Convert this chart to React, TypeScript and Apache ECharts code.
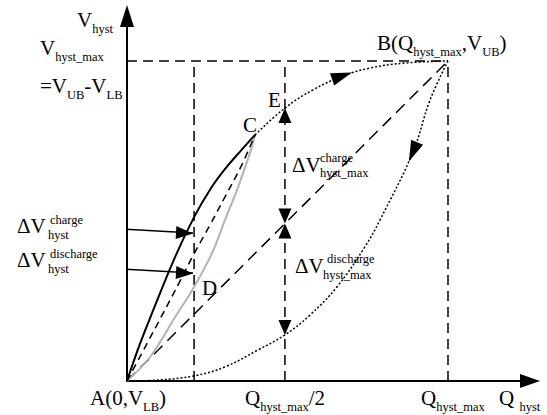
import React, { useEffect, useRef } from 'react';
import * as echarts from 'echarts';

// ---- data (Q normalised to Q_hyst_max, V normalised to V_hyst_max) ----
const X_AXIS_MAX = 1.2555;
const Y_AXIS_MAX = 1.1406;
const guideTop: number[][] = [[0, 1], [1, 1]];
const guideVerticals: number[] = [0.209, 0.492, 1];
const diagonal: number[][] = [[0, 0], [1, 1]];
const chargeSolid: number[][] = [[0, 0], [0.04, 0.115], [0.078, 0.212], [0.15, 0.388], [0.209, 0.512], [0.26, 0.6], [0.305, 0.662], [0.355, 0.72], [0.399, 0.769]];
const chargeDashed: number[][] = [[0, 0], [0.109, 0.205], [0.165, 0.312], [0.209, 0.398], [0.26, 0.49], [0.305, 0.575], [0.355, 0.67], [0.399, 0.769]];
const dischargeGray: number[][] = [[0, 0], [0.072, 0.075], [0.15, 0.2], [0.209, 0.294], [0.265, 0.4], [0.305, 0.503], [0.346, 0.606], [0.389, 0.731], [0.399, 0.769]];
const upperDotted: number[][] = [[0.399, 0.769], [0.492, 0.853], [0.58, 0.91], [0.67, 0.952], [0.757, 0.978], [0.87, 0.994], [1, 1]];
const lowerDotted: number[][] = [[1, 1], [0.944, 0.878], [0.891, 0.716], [0.788, 0.503], [0.741, 0.419], [0.654, 0.294], [0.57, 0.206], [0.492, 0.144], [0.408, 0.097], [0.305, 0.044], [0.209, 0.016], [0.097, 0.003], [0, 0]];
const pointerCharge: number[][] = [[-0.1215, 0.481], [0.2056, 0.4625]];
const pointerDischarge: number[][] = [[-0.1215, 0.356], [0.2056, 0.3375]];
// arrow heads with the tip on the point: [Q, V, direction]
const tipArrows: [number, number, string][] = [
  [0.492, 0.853, 'up'],
  [0.492, 0.492, 'down'],
  [0.492, 0.492, 'up'],
  [0.492, 0.144, 'down'],
  [0.2056, 0.4625, 'right'],
  [0.2056, 0.3375, 'right'],
];
// arrow heads centred on a curve: [Q, V, rotation in degrees]
const curveArrows: [number, number, number][] = [
  [0.67, 0.953, -71],
  [0.891, 0.716, 157],
];

const FONT = "'Liberation Serif', 'Times New Roman', serif";

const rich = {
  m: { fontSize: 21, fontFamily: FONT, lineHeight: 24, fill: '#000' },
  s: { fontSize: 12.5, fontFamily: FONT, lineHeight: 24, padding: [18, 0, 0, 0], fill: '#000' },
};

// rich labels: [text, left, baseline]
const richLabels: [string, number, number][] = [
  ['{m|V}{s|hyst}', 77, 27],
  ['{m|V}{s|hyst_max}', 40, 55],
  ['{m|=V}{s|UB}{m|-V}{s|LB}', 40, 93],
  ['{m|B(Q}{s|hyst_max}{m|,V}{s|UB}{m|)}', 377, 50],
  ['{m|E}', 268, 107],
  ['{m|C}', 243, 132],
  ['{m|D}', 202, 295],
  ['{m|A(0,V}{s|LB}{m|)}', 90, 405],
  ['{m|Q}{s|hyst_max}{m|/2}', 245, 405],
  ['{m|Q}{s|hyst_max}', 421, 405],
  ['{m|Q }{s|hyst}', 499, 405],
  ['{m|ΔV}', 17, 233],
  ['{m|ΔV}', 17, 267],
  ['{m|ΔV}', 292, 172],
  ['{m|ΔV}', 295, 273],
];
// small stacked labels: [text, left, baseline]
const smallLabels: [string, number, number][] = [
  ['charge', 50, 224],
  ['hyst', 48, 239],
  ['discharge', 50, 258],
  ['hyst', 48, 273],
  ['charge', 320, 162],
  ['hyst_max', 320, 177],
  ['discharge', 327, 263],
  ['hyst_max', 323, 279],
];

function lineSeries(data: number[][], style: any, extra: any = {}) {
  return {
    type: 'line',
    data,
    symbol: 'none',
    showSymbol: false,
    silent: true,
    lineStyle: { color: '#000', width: 1.5, ...style },
    ...extra,
  };
}

export default function App() {
  const ref = useRef<HTMLDivElement>(null);
  useEffect(() => {
    if (!ref.current) return;
    const chart = echarts.init(ref.current, undefined, { renderer: 'svg' });
    const dash = [10, 6];
    const series: any[] = [];
    series.push(lineSeries(guideTop, { type: dash }));
    guideVerticals.forEach((q) => series.push(lineSeries([[q, 0], [q, 1]], { type: dash })));
    series.push(lineSeries(diagonal, { type: [12, 7] }));
    series.push(lineSeries(lowerDotted, { type: [2, 2] }, { smooth: 0.4 }));
    series.push(lineSeries(upperDotted, { type: [2, 2] }, { smooth: 0.4 }));
    series.push(lineSeries(dischargeGray, { color: '#b3b3b3', width: 2 }, { smooth: 0.4 }));
    series.push(lineSeries(chargeDashed, { type: [7, 5] }, { smooth: 0.4 }));
    series.push(lineSeries(chargeSolid, { width: 2 }, { smooth: 0.4 }));
    series.push(lineSeries(pointerCharge, { width: 1.5 }, { clip: false }));
    series.push(lineSeries(pointerDischarge, { width: 1.5 }, { clip: false }));

    const arrowData: any[] = [];
    tipArrows.forEach(([q, v, dir]) => {
      if (dir === 'up') arrowData.push({ value: [q, v], symbolRotate: 0, symbolSize: [13, 15], symbolOffset: [0, 7.5] });
      if (dir === 'down') arrowData.push({ value: [q, v], symbolRotate: 180, symbolSize: [13, 15], symbolOffset: [0, -7.5] });
      if (dir === 'right') arrowData.push({ value: [q, v], symbolRotate: -93, symbolSize: [13, 17], symbolOffset: [-8.5, 0] });
    });
    curveArrows.forEach(([q, v, a]) => {
      arrowData.push({ value: [q, v], symbolRotate: a, symbolSize: [13, 21] });
    });
    series.push({
      type: 'scatter',
      data: arrowData,
      symbol: 'triangle',
      silent: true,
      clip: false,
      itemStyle: { color: '#000', opacity: 1 },
      z: 5,
    });

    const graphic: any[] = [];
    richLabels.forEach(([text, x, b]) => {
      graphic.push({
        type: 'text',
        x,
        y: b - 19,
        silent: true,
        style: { text, rich, align: 'left', verticalAlign: 'top', fill: '#000', fontSize: 21, fontFamily: FONT },
      });
    });
    smallLabels.forEach(([text, x, b]) => {
      graphic.push({
        type: 'text',
        x,
        y: b - 4.2,
        silent: true,
        style: { text, align: 'left', verticalAlign: 'middle', fill: '#000', fontSize: 12.5, fontFamily: FONT },
      });
    });

    chart.setOption({
      animation: false,
      backgroundColor: '#fff',
      grid: { left: 127, right: 17, top: 16, bottom: 34 },
      xAxis: {
        type: 'value',
        min: 0,
        max: X_AXIS_MAX,
        axisLine: { show: true, onZero: false, symbol: ['none', 'triangle'], symbolSize: [14, 20], lineStyle: { color: '#000', width: 2 } },
        axisTick: { show: false },
        axisLabel: { show: false },
        splitLine: { show: false },
      },
      yAxis: {
        type: 'value',
        min: 0,
        max: Y_AXIS_MAX,
        axisLine: { show: true, onZero: false, symbol: ['none', 'triangle'], symbolSize: [14, 22], lineStyle: { color: '#000', width: 2 } },
        axisTick: { show: false },
        axisLabel: { show: false },
        splitLine: { show: false },
      },
      series,
      graphic,
    });
    return () => chart.dispose();
  }, []);
  return <div ref={ref} style={{ position: 'absolute', left: 0, top: 0, width: 547, height: 415, background: '#fff' }} />;
}
